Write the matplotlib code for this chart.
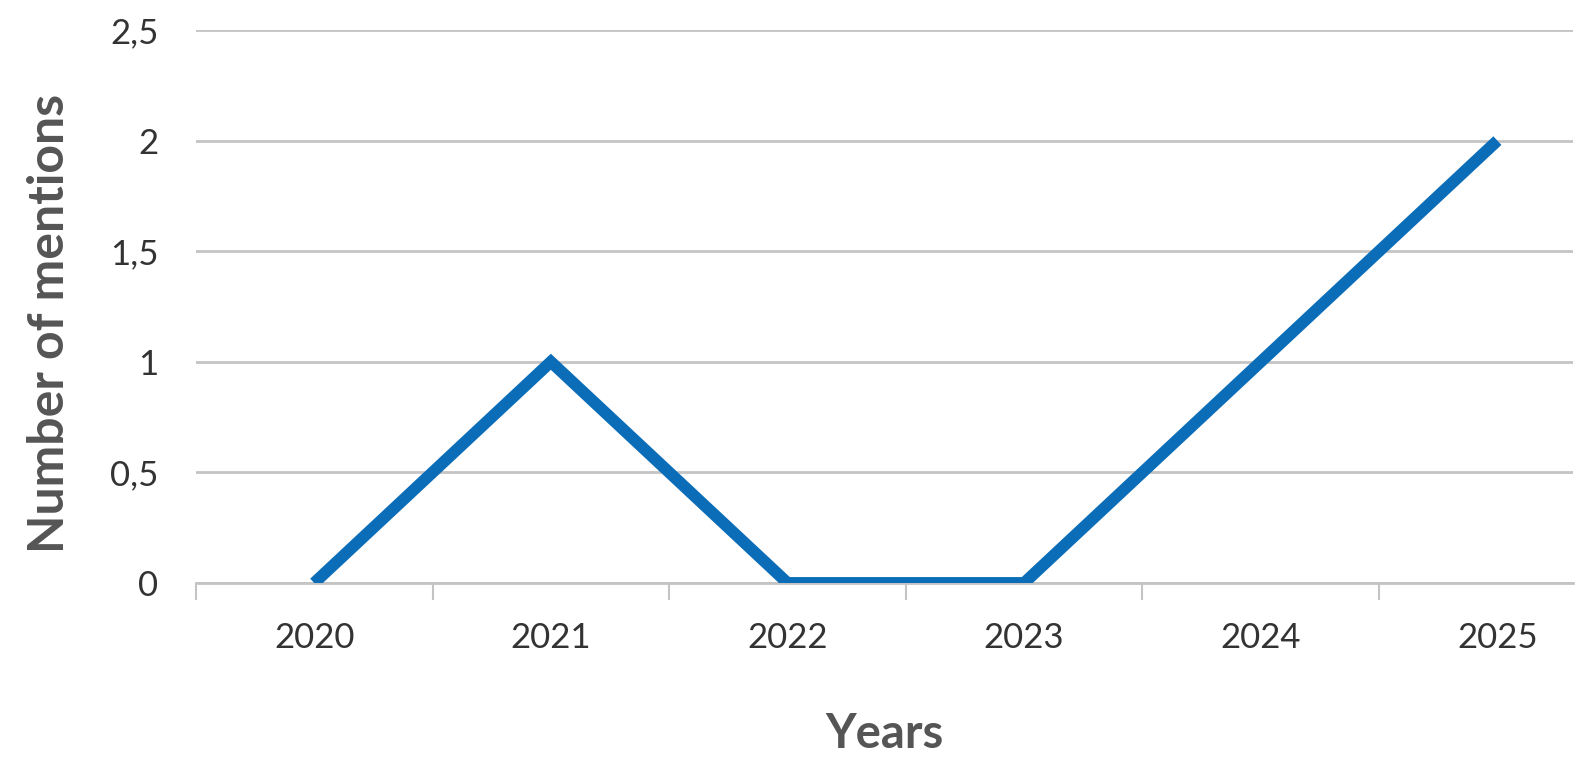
import matplotlib.pyplot as plt
from matplotlib.ticker import FuncFormatter

# data
years = ['2020', '2021', '2022', '2023', '2024', '2025']
mentions = [0, 1, 0, 0, 1, 2]
y_ticks = [0, 0.5, 1, 1.5, 2, 2.5]

plt.rcParams['font.family'] = ['Lato', 'DejaVu Sans']

fig = plt.figure(figsize=(15.89, 7.70), dpi=100)
ax = fig.add_axes([0.1233, 0.2429, 0.8667, 0.7181])

x = list(range(len(years)))
ax.plot(x, mentions, color='#0B6DB7', linewidth=8.5, solid_joinstyle='miter',
        solid_capstyle='butt', zorder=3)

ax.set_yticks(y_ticks)
ax.yaxis.set_major_formatter(FuncFormatter(lambda v, p: f'{v:g}'.replace('.', ',')))
ax.grid(axis='y', color='#C4C4C4', linewidth=2)
ax.set_axisbelow(True)

# category labels centred, tick marks between categories
ax.set_xticks(x)
ax.set_xticklabels(years)
ax.set_xticks([i - 0.5 for i in range(len(years))], minor=True)
ax.tick_params(axis='x', which='major', length=0, pad=28, labelsize=25, colors='#333333')
ax.tick_params(axis='x', which='minor', length=12, width=1.5, color='#C4C4C4')
ax.tick_params(axis='y', length=0, pad=27, labelsize=25, colors='#333333')

# limits after the ticks so they are not widened
ax.set_xlim(-0.5, 5.32)
ax.set_ylim(0, 2.5)

for s in ['top', 'right', 'left']:
    ax.spines[s].set_visible(False)
ax.spines['bottom'].set_color('#C4C4C4')
ax.spines['bottom'].set_linewidth(2)

ax.set_xlabel('Years', fontsize=34, fontweight='bold', color='#555555', labelpad=42)
ax.set_ylabel('Number of mentions', fontsize=36, fontweight='bold', color='#555555',
              labelpad=25)
ax.yaxis.set_label_coords(-0.09, 0.47)

fig.savefig('out.png', dpi=100)
